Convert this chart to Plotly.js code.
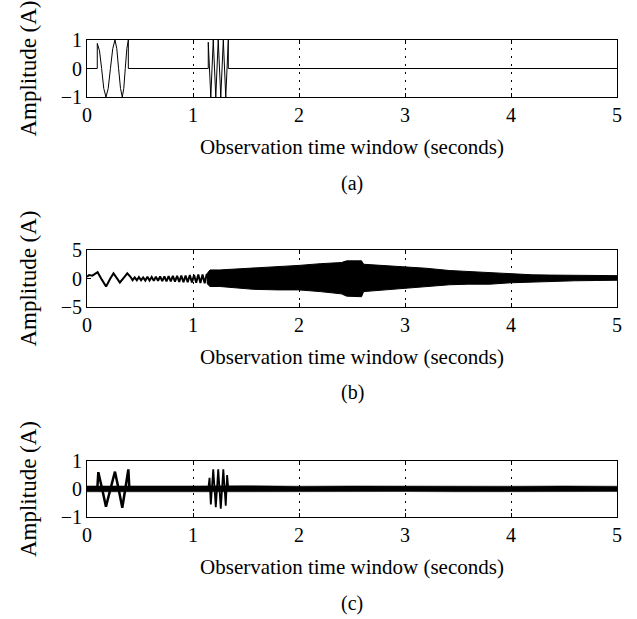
<!DOCTYPE html>
<html>
<head>
<meta charset="utf-8">
<script src="https://cdn.plot.ly/plotly-3.0.1.min.js"></script>
<style>html,body{margin:0;padding:0;background:#fff;}#chart{width:637px;height:619px;}</style>
</head>
<body>
<div id="chart"></div>
<script>
// ---- Panel (a): clean test signal ----
var tA = [0, 0.097, 0.097, 0.118, 0.138, 0.158, 0.179, 0.200, 0.221, 0.243, 0.264, 0.281, 0.298, 0.316, 0.333, 0.347, 0.361, 0.376, 0.390, 0.390,
          1.144, 1.144, 1.168, 1.191, 1.215, 1.238, 1.262, 1.286, 1.309, 1.333, 1.333, 5];
var yA = [0, 0, 0.88, 0.62, 0, -0.7, -1, -0.7, 0, 0.7, 1, 0.7, 0, -0.7, -1, -0.7, 0, 0.7, 1, 0,
          0, 0.92, -1, 1, -1, 1, -1, 1, -1, 1, 0, 0];

// ---- Panel (b): response signal ----
var tB = [0.00, 0.02, 0.05, 0.08, 0.10, 0.14, 0.18, 0.22, 0.25, 0.28, 0.31, 0.35, 0.38,
          0.41, 0.43, 0.45, 0.47, 0.49, 0.51, 0.53, 0.55, 0.57, 0.59, 0.61, 0.63, 0.65, 0.67, 0.69, 0.71, 0.73, 0.75,
          0.77, 0.79, 0.81, 0.83, 0.85, 0.87, 0.89, 0.91, 0.93, 0.95, 0.97, 0.99, 1.01, 1.03, 1.05, 1.07, 1.09, 1.11, 1.13];
var yB = [0.3, 0.6, 0.5, 0.9, 1.1, -0.2, -1.4, 0.0, 0.9, 0.1, -0.7, 0.2, 0.9,
          0.3, -0.3, 0.2, -0.3, 0.25, -0.3, 0.2, -0.35, 0.3, -0.35, 0.25, -0.4, 0.3, -0.4, 0.35, -0.45, 0.35, -0.5,
          0.4, -0.5, 0.45, -0.55, 0.45, -0.6, 0.5, -0.65, 0.5, -0.65, 0.6, -0.7, 0.6, -0.75, 0.7, -0.8, 0.7, -0.85, 0.8];
var tBenv = [1.13, 1.16, 1.25, 1.57, 1.80, 2.00, 2.20, 2.40, 2.45, 2.59, 2.61, 2.80, 3.00, 3.20, 3.42, 3.60, 3.80, 4.00, 4.20, 4.37, 4.60, 4.80, 5.00];
var bUpper = [0.8, 1.5, 1.5, 1.8, 2.1, 2.3, 2.6, 2.8, 3.1, 3.1, 2.5, 2.3, 2.1, 1.8, 1.4, 1.2, 1.0, 0.75, 0.65, 0.6, 0.55, 0.5, 0.5];
var bLower = [-0.85, -1.4, -1.4, -1.9, -2.0, -2.0, -2.3, -2.7, -3.1, -3.2, -2.3, -2.0, -1.7, -1.4, -1.1, -1.0, -1.0, -0.75, -0.6, -0.45, -0.4, -0.35, -0.3];

// ---- Panel (c): noisy test signal ----
var tCn = [0, 0.5, 1.0, 1.5, 2.0, 2.5, 3.0, 3.5, 4.0, 4.5, 5.0];
var cUpper = [0.11, 0.10, 0.11, 0.12, 0.10, 0.11, 0.10, 0.11, 0.10, 0.11, 0.10];
var cLower = [-0.10, -0.09, -0.10, -0.10, -0.09, -0.10, -0.09, -0.10, -0.09, -0.10, -0.09];
var tCw = [0.097, 0.107, 0.143, 0.179, 0.221, 0.264, 0.298, 0.333, 0.361, 0.390, 0.400];
var yCw = [0, 0.6, 0, -0.63, 0, 0.62, 0, -0.67, 0, 0.7, 0];
var tCb = [1.144, 1.156, 1.168, 1.191, 1.215, 1.238, 1.262, 1.286, 1.309, 1.322, 1.333];
var yCb = [0, 0.4, -0.55, 0.7, -0.65, 0.7, -0.7, 0.7, -0.6, 0.5, 0];

var xTicks = [0, 1, 2, 3, 4, 5];
var xTitle = 'Observation time window (seconds)';
var yTitle = 'Amplitude (A)';
var captions = ['(a)', '(b)', '(c)'];

var FONT = 'Liberation Serif, Times New Roman, serif';
var K = '#000';

var traces = [
  {x: tA, y: yA, xaxis: 'x', yaxis: 'y', mode: 'lines', line: {color: K, width: 1}},
  {x: tB, y: yB, xaxis: 'x2', yaxis: 'y2', mode: 'lines', line: {color: K, width: 2}},
  {x: tBenv, y: bUpper, xaxis: 'x2', yaxis: 'y2', mode: 'lines', line: {color: K, width: 1}},
  {x: tBenv, y: bLower, xaxis: 'x2', yaxis: 'y2', mode: 'lines', line: {color: K, width: 1}, fill: 'tonexty', fillcolor: K},
  {x: tCn, y: cUpper, xaxis: 'x3', yaxis: 'y3', mode: 'lines', line: {color: K, width: 0.5}},
  {x: tCn, y: cLower, xaxis: 'x3', yaxis: 'y3', mode: 'lines', line: {color: K, width: 0.5}, fill: 'tonexty', fillcolor: K},
  {x: tCw, y: yCw, xaxis: 'x3', yaxis: 'y3', mode: 'lines', line: {color: K, width: 2.5}},
  {x: tCb, y: yCb, xaxis: 'x3', yaxis: 'y3', mode: 'lines', line: {color: K, width: 1.8}}
];

function xax(anchor) {
  return {
    anchor: anchor, domain: [0, 1], range: [0, 5], tickvals: xTicks,
    ticks: 'inside', ticklen: 4, tickcolor: K, showline: true, linecolor: K, linewidth: 1, mirror: 'ticks',
    showgrid: true, gridcolor: K, griddash: '2px,6px', gridwidth: 1, zeroline: false,
    tickfont: {family: FONT, size: 20, color: K},
    title: {text: xTitle, font: {family: FONT, size: 21, color: K}, standoff: 14}
  };
}
function yax(anchor, dom, rng, tv) {
  return {
    anchor: anchor, domain: dom, range: rng, tickvals: tv,
    ticks: 'inside', ticklen: 4, tickcolor: K, showline: true, linecolor: K, linewidth: 1, mirror: 'ticks',
    showgrid: false, zeroline: false,
    tickfont: {family: FONT, size: 20, color: K},
    title: {text: yTitle, font: {family: FONT, size: 23, color: K}, standoff: 17}
  };
}

var layout = {
  width: 637, height: 619,
  margin: {l: 87, r: 20, t: 40, b: 102},
  paper_bgcolor: '#fff', plot_bgcolor: '#fff',
  showlegend: false,
  font: {family: FONT, size: 20, color: K},
  xaxis: xax('y'), xaxis2: xax('y2'), xaxis3: xax('y3'),
  yaxis: yax('x', [0.8805, 1.0], [-1, 1], [-1, 0, 1]),
  yaxis2: yax('x2', [0.4403, 0.5597], [-5, 5], [-5, 0, 5]),
  yaxis3: yax('x3', [0.0, 0.1174], [-1, 1], [-1, 0, 1]),
  annotations: [
    {text: captions[0], xref: 'paper', yref: 'paper', x: 0.5, y: 0.7002, showarrow: false, xanchor: 'center', yanchor: 'middle', font: {family: FONT, size: 20, color: K}},
    {text: captions[1], xref: 'paper', yref: 'paper', x: 0.5, y: 0.2600, showarrow: false, xanchor: 'center', yanchor: 'middle', font: {family: FONT, size: 20, color: K}},
    {text: captions[2], xref: 'paper', yref: 'paper', x: 0.5, y: -0.1803, showarrow: false, xanchor: 'center', yanchor: 'middle', font: {family: FONT, size: 20, color: K}}
  ]
};

Plotly.newPlot('chart', traces, layout, {staticPlot: true, displayModeBar: false});
</script>
</body>
</html>
